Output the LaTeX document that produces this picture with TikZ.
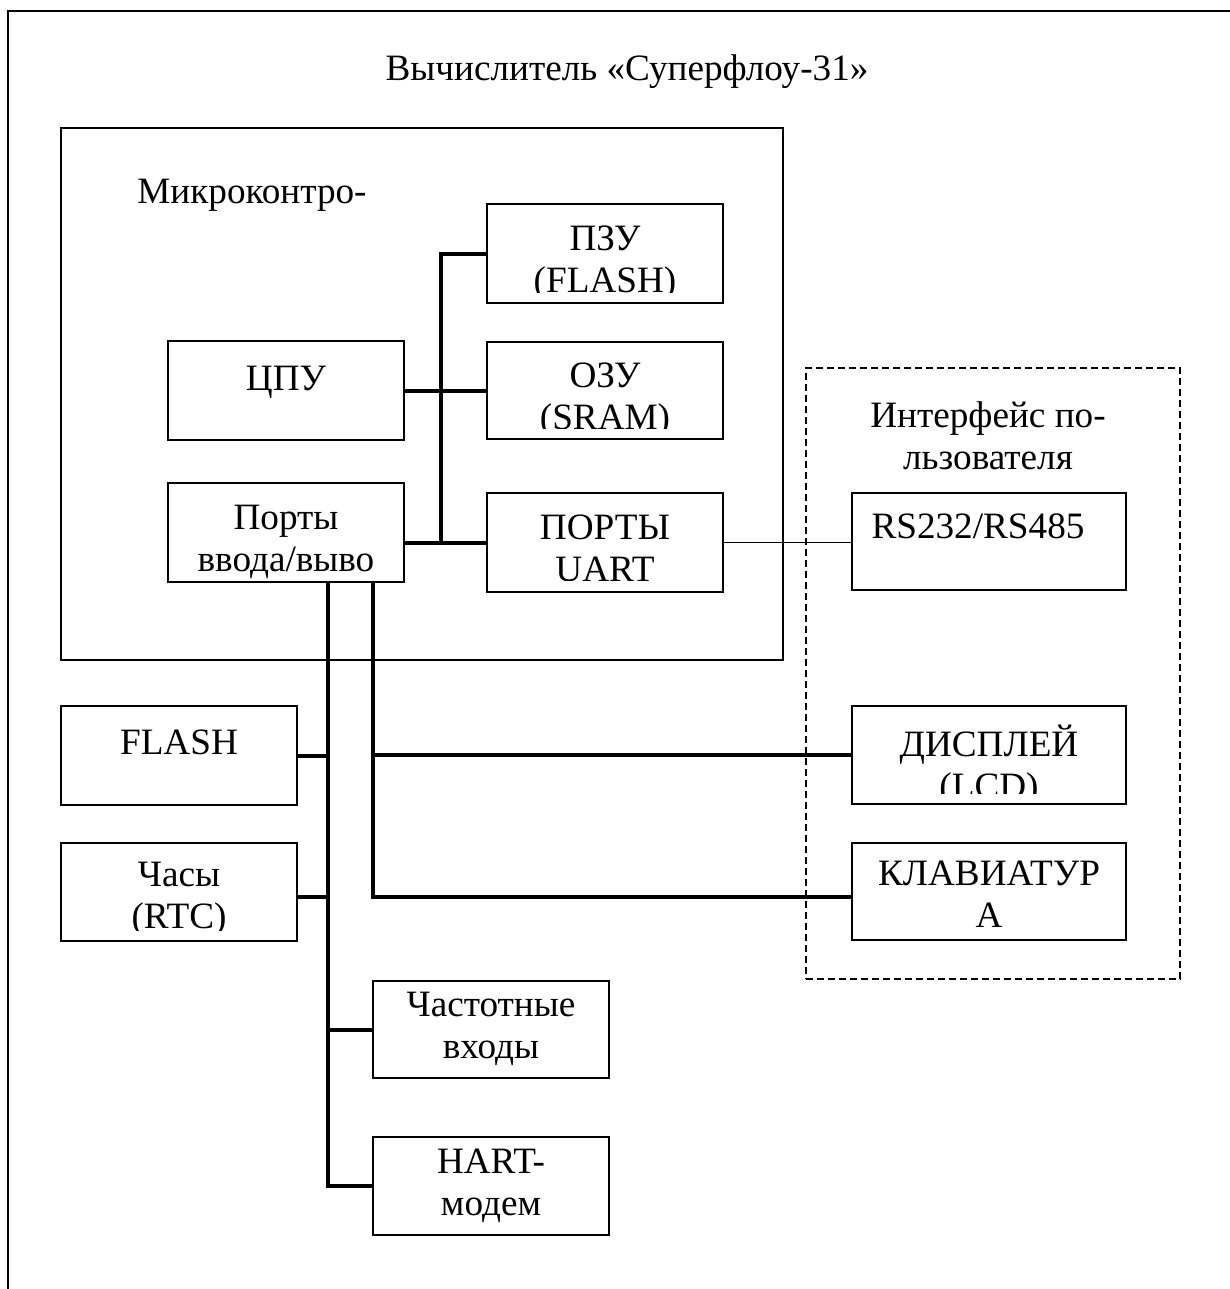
\documentclass[tikz,border=0pt]{standalone}
\usepackage{fontspec}
\setmainfont{Liberation Serif}
\newcommand\dfont{\fontsize{18.6pt}{21pt}\selectfont}
\begin{document}
\begin{tikzpicture}[x=0.5pt,y=-0.5pt,
  box/.style={draw, line width=0.8pt, inner sep=0pt, minimum width=118pt, minimum height=49.5pt},
  ubox/.style={box, minimum width=137pt, minimum height=48.5pt},
  lab/.style={anchor=north, align=center, inner sep=0pt, font=\dfont, execute at begin node=\strut},
  free/.style={inner sep=0pt, font=\dfont},
  bus/.style={line width=2pt},
  thin/.style={line width=0.75pt},
  uibox/.style={draw, line width=0.8pt, dash pattern=on 3.5pt off 2pt, inner sep=0pt}
]
\useasboundingbox (0,0) rectangle (1230,1289);
\fill[white] (0,0) rectangle (1230,1289);

% outer frame (cut off)
\draw[line width=1pt] (1230,11) -- (8,11) -- (8,1289);

\node[free, anchor=base] (title) at (627,80.3) {Вычислитель «Суперфлоу-31»};

% microcontroller
\node[draw, line width=0.8pt, inner sep=0pt, minimum width=361pt, minimum height=266pt] (mc) at (422,394) {};
\node[free, anchor=base west] (mctitle) at (137,203.3) {Микроконтро-};

\node[box] (cpu) at (286,390.5) {};
\node[lab, yshift=-10pt] (cput) at (cpu.north) {ЦПУ};
\node[box] (io) at (286,532.5) {};
\node[lab, yshift=-11.3pt] (iot) at (io.north) {Порты\\ввода/выво};
\node[box] (rom) at (605,253.5) {};
\begin{scope}
\clip (rom.north west) rectangle ([yshift=5.5pt]rom.south east);
\node[lab, yshift=-11pt] (romt) at (rom.north) {ПЗУ\\(FLASH)};
\end{scope}
\node[box, minimum height=48.5pt] (ram) at (605,390.5) {};
\begin{scope}
\clip (ram.north west) rectangle ([yshift=5.5pt]ram.south east);
\node[lab, yshift=-10.8pt] (ramt) at (ram.north) {ОЗУ\\(SRAM)};
\end{scope}
\node[box] (uart) at (605,542.5) {};
\begin{scope}
\clip (uart.north west) rectangle ([yshift=6pt]uart.south east);
\node[lab, yshift=-11pt] (uartt) at (uart.north) {ПОРТЫ\\UART};
\end{scope}

% user interface
\node[uibox, minimum width=187pt, minimum height=305.5pt] (ui) at (993,673.5) {};
\node[lab] (uit) at (988,401.5) {Интерфейс по-\\льзователя};
\node[ubox] (rs) at (989,541.5) {};
\node[lab, yshift=-8.3pt, xshift=-5.5pt] (rst) at (rs.north) {RS232/RS485};
\node[ubox, minimum height=49pt] (lcd) at (989,755) {};
\begin{scope}
\clip (lcd.north west) rectangle ([yshift=5.5pt]lcd.south east);
\node[lab, yshift=-9.5pt] (lcdt) at (lcd.north) {ДИСПЛЕЙ\\(LCD)};
\end{scope}
\node[ubox] (kbd) at (989,891.5) {};
\node[lab, yshift=-9.3pt] (kbdt) at (kbd.north) {КЛАВИАТУР\\А};

% peripherals
\node[box] (flash) at (179,755.5) {};
\node[lab, yshift=-9.8pt] (flasht) at (flash.north) {FLASH};
\node[box, minimum height=49pt] (rtc) at (179,892) {};
\begin{scope}
\clip (rtc.north west) rectangle ([yshift=5.5pt]rtc.south east);
\node[lab, yshift=-9.8pt] (rtct) at (rtc.north) {Часы\\(RTC)};
\end{scope}
\node[box, minimum height=48.5pt] (freq) at (491,1029.5) {};
\node[lab, yshift=-5.8pt] (freqt) at (freq.north) {Частотные\\входы};
\node[box, minimum height=49pt] (hart) at (491,1186) {};
\node[lab, yshift=-6.3pt] (hartt) at (hart.north) {HART-\\модем};

% internal bus
\draw[bus] (rom.west) -- ++(-45,0) |- (uart.west);
\draw[bus] (cpu.east) -- (ram.west);
\draw[bus] (io.east |- uart.west) -- (uart.west);

% UART to RS232
\draw[thin] (uart.east) -- (uart.east -| rs.west);

% external buses
\coordinate (lb) at ([xshift=21pt]io.south);
\coordinate (rb) at ([xshift=43.5pt]io.south);
\draw[bus] (lb) |- (hart.west);
\draw[bus] (flash.east) -- (flash.east -| lb);
\draw[bus] ([yshift=-2.5pt]rtc.east) -- ([yshift=-2.5pt]rtc.east -| lb);
\draw[bus] (freq.west) -- (freq.west -| lb);
\draw[bus] (rb) |- ([yshift=-2.5pt]kbd.west);
\draw[bus] (lcd.west -| rb) -- (lcd.west);
\end{tikzpicture}
\end{document}
